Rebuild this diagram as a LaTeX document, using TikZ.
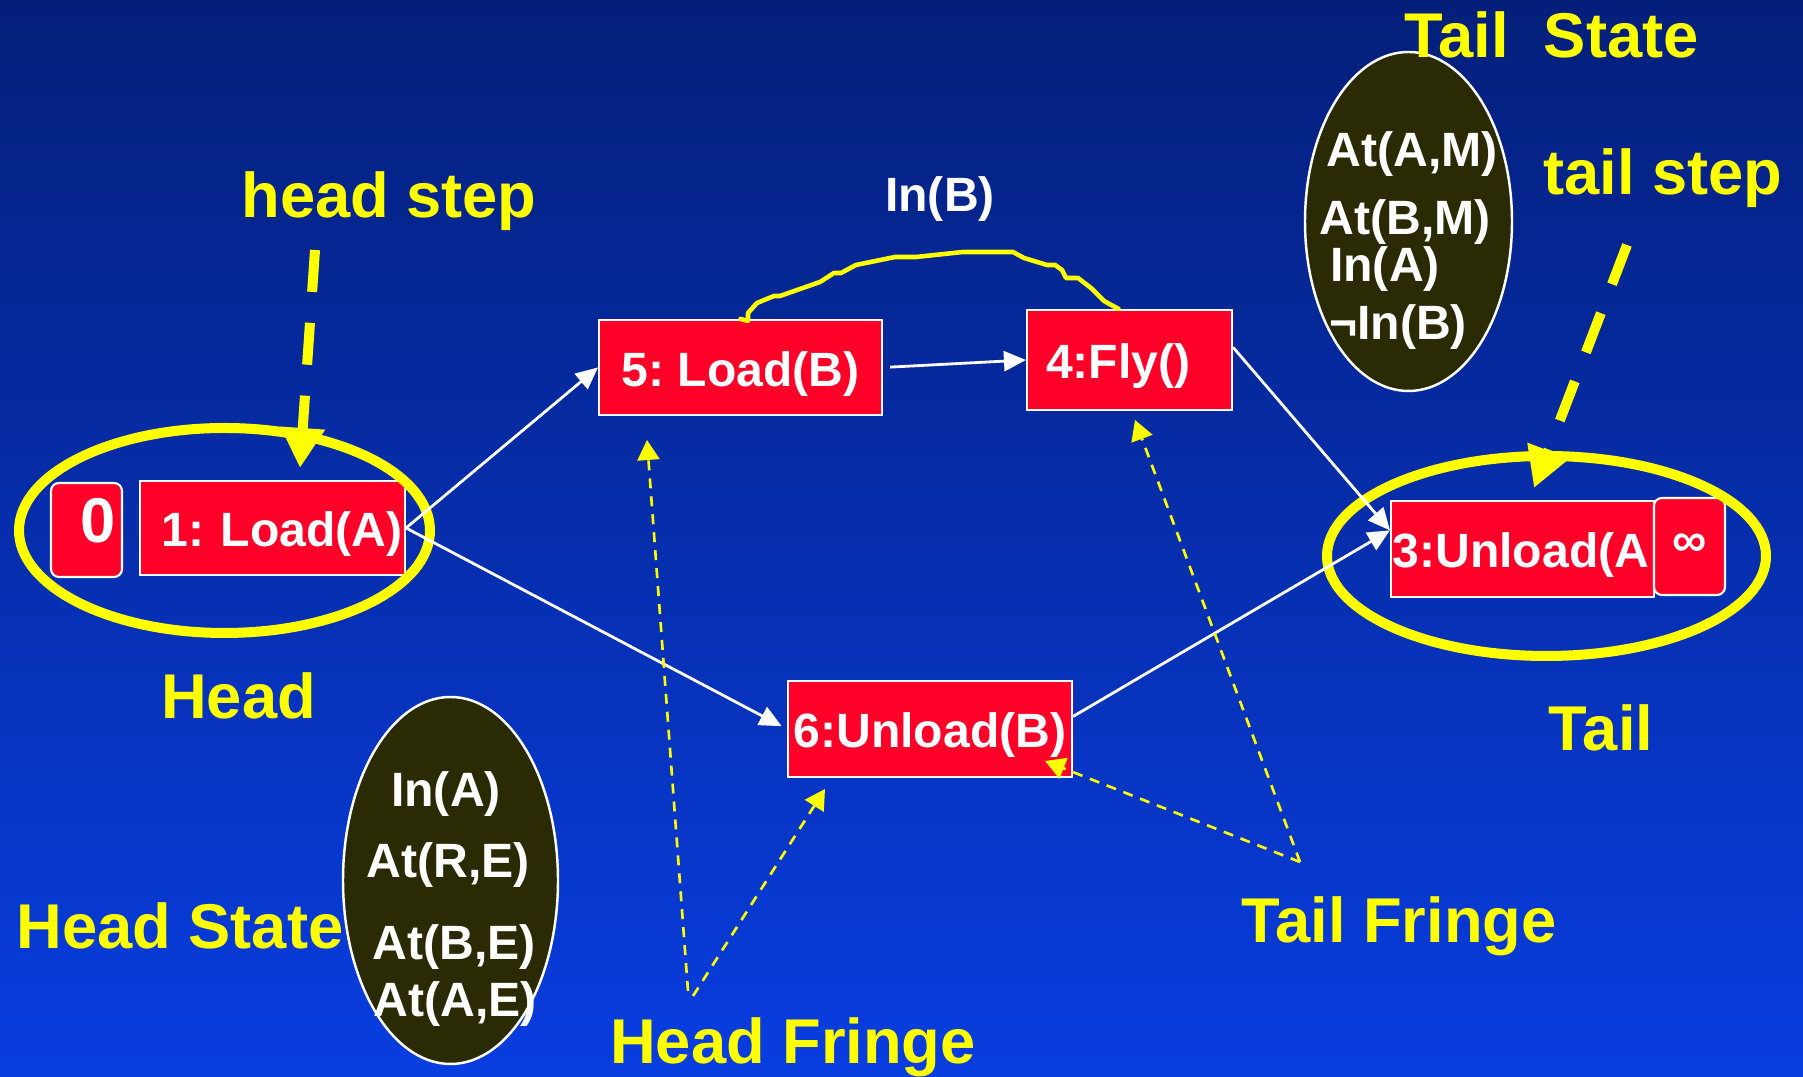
\documentclass[tikz,border=0pt]{standalone}
\usepackage{fontspec}
\setmainfont{Liberation Sans}
\usetikzlibrary{arrows.meta}

\definecolor{bgtop}{RGB}{4,31,122}
\definecolor{bgbot}{RGB}{8,61,224}
\definecolor{opred}{RGB}{255,0,40}
\definecolor{statefill}{RGB}{42,42,4}
\definecolor{hiyellow}{RGB}{255,255,0}

\newcommand\opfont{\fontsize{13.7pt}{16pt}\selectfont\bfseries\frenchspacing}
\newcommand\lblfont{\fontsize{18pt}{21pt}\selectfont\bfseries\frenchspacing}

\tikzset{
	op/.style={draw=white, line width=0.6pt, fill=opred, text=white, font=\opfont,
		minimum height=0.95cm, inner sep=0pt, text height=0.38cm, text depth=0pt},
	bound/.style={op, rounded corners=0.08cm},
	fact/.style={text=white, font=\opfont, anchor=base, inner sep=0pt},
	lbl/.style={text=hiyellow, font=\lblfont, anchor=base, inner sep=0pt},
	link/.style={draw=white, line width=0.8pt, -{Triangle[length=0.22cm,width=0.2cm]}},
	fringe/.style={draw=hiyellow, line width=0.75pt, dash pattern=on 0.1cm off 0.08cm,
		-{Triangle[length=0.2cm,width=0.22cm]}},
	steparrow/.style={draw=hiyellow, line width=0.1cm, dash pattern=on 0.42cm off 0.31cm,
		-{Triangle[length=0.4cm,width=0.42cm]}},
	band/.style={draw=hiyellow, line width=0.1cm},
	state/.style={draw=white, line width=0.7pt, fill=statefill}
}

\begin{document}
\begin{tikzpicture}
	\useasboundingbox (0,0) rectangle (18.03,10.77);
	\shade[top color=bgtop, bottom color=bgbot] (0,0) rectangle (18.03,10.77);

	\node[lbl] (headstate) at (1.80,1.28) {Head State};
	\draw[state] (4.505,1.965) ellipse (1.075cm and 1.835cm);
	\draw[state] (14.085,8.555) ellipse (1.035cm and 1.695cm);
	\node[fact] (hsa) at (4.46,2.70) {In(A)};
	\node[fact] (hsb) at (4.48,1.99) {At(R,E)};
	\node[fact] (hsc) at (4.54,1.17) {At(B,E)};
	\node[fact] (hsd) at (4.55,0.60) {At(A,E)};
	\node[fact] (tsa) at (14.12,9.10) {At(A,M)};
	\node[fact] (tsb) at (14.05,8.42) {At(B,M)};
	\node[fact] (tsc) at (13.85,7.95) {In(A)};
	\node[fact] (tsd) at (13.98,7.37) {¬In(B)};

	\node[bound, minimum width=0.71cm, minimum height=0.94cm, font=\lblfont,
		text height=0.26cm, align=right, text width=0.58cm] (zero) at (0.865,5.47) {0};
	\node[op, minimum width=2.65cm, minimum height=0.94cm, align=right, text width=2.6cm] (one) at (2.725,5.49) {1: Load(A)};
	\node[op, minimum width=2.83cm] (five) at (7.405,7.095) {5: Load(B)};
	\node[op, minimum width=2.05cm, minimum height=1.0cm, align=left, text width=1.67cm] (four) at (11.295,7.17) {4:Fly()};
	\node[op, minimum width=2.84cm, minimum height=0.96cm] (six) at (9.30,3.48) {6:Unload(B)};
	\node[op, minimum width=2.63cm, minimum height=0.96cm, align=left, text width=2.6cm] (three) at (15.225,5.28) {3:Unload(A};
	\node[bound, minimum width=0.71cm, minimum height=0.97cm, text height=0.2cm] (inf) at (16.895,5.305) {∞};

	\draw[band] (2.245,5.465) ellipse (2.055cm and 1.025cm);
	\draw[band] (15.465,5.21) ellipse (2.195cm and 1.00cm);

	\draw[hiyellow, line width=1.3pt, line join=round, line cap=round] (five.north) -- (7.48,7.56) -- (7.48,7.64)
		-- (7.57,7.74) -- (7.74,7.81) -- (7.80,7.81) -- (8.20,7.95) -- (8.34,8.04) -- (8.41,8.04)
		-- (8.56,8.12) -- (8.95,8.20) -- (9.16,8.20) -- (9.63,8.25) -- (10.13,8.25) -- (10.24,8.19)
		-- (10.47,8.12) -- (10.55,8.12) -- (10.62,8.07) -- (10.66,7.99) -- (10.78,7.99) -- (10.91,7.89)
		-- (11.04,7.76) -- ([xshift=-0.11cm]four.north);
	\node[fact] (inb) at (9.40,8.65) {In(B)};

	\draw[link] (one.east) -- (five.west);
	\draw[link, shorten >=0.06cm] (one.east) -- (six.west);
	\draw[link, shorten <=0.07cm] (five.east) -- (four.west);
	\draw[link] (four.7) -- (three.172);
	\draw[link] (six.5) -- (three.172);

	\coordinate (hfa) at (6.88,0.86);
	\coordinate (hfb) at (6.93,0.81);
	\coordinate (hfc) at (6.47,6.37);
	\coordinate (hfd) at (8.25,2.88);
	\coordinate (tf) at (13.00,2.15);
	\coordinate (tfc) at (11.35,6.57);
	\coordinate (tfd) at (10.45,3.16);
	\draw[fringe] (hfa) -- (hfc);
	\draw[fringe] (hfb) -- (hfd);
	\draw[fringe] (tf) -- (tfc);
	\draw[fringe] (tf) -- (tfd);

	\coordinate (hsfrom) at (3.15,8.27);
	\coordinate (hsto) at (3.00,6.09);
	\coordinate (tsfrom) at (16.27,8.32);
	\coordinate (tsto) at (15.34,5.89);
	\draw[steparrow] (hsfrom) -- (hsto);
	\draw[steparrow] (tsfrom) -- (tsto);

	\node[lbl] (headstep) at (3.89,8.59) {head step};
	\node[lbl] (tailstep) at (16.63,8.82) {tail step};
	\node[lbl] (tailstate) at (15.515,10.19) {Tail\ \ State};
	\node[lbl] (head) at (2.385,3.58) {Head};
	\node[lbl] (tail) at (16.01,3.26) {Tail};
	\node[lbl] (tailfringe) at (13.99,1.34) {Tail Fringe};
	\node[lbl] (headfringe) at (7.93,0.13) {Head Fringe};
\end{tikzpicture}
\end{document}
